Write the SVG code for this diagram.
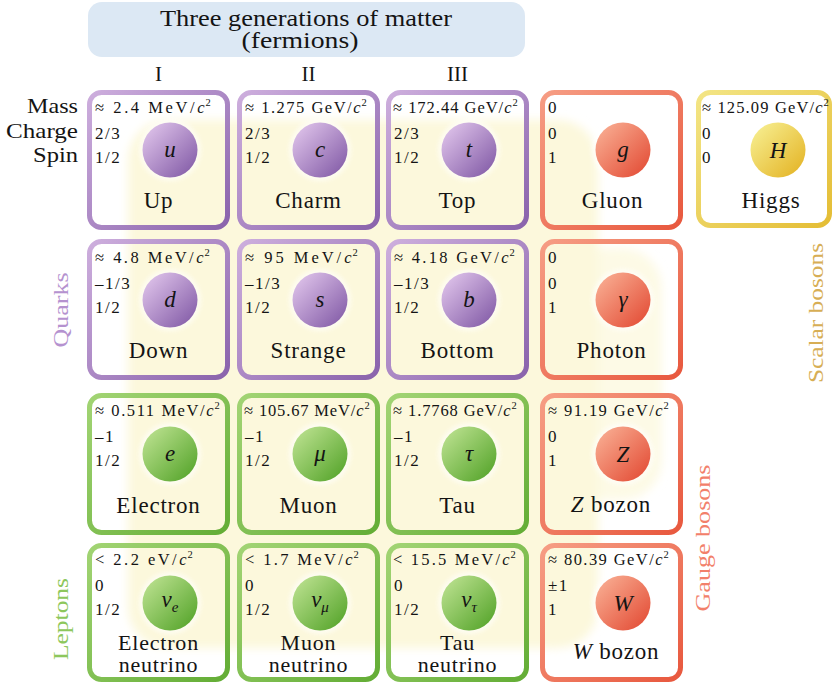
<svg xmlns="http://www.w3.org/2000/svg" width="836" height="686" viewBox="0 0 836 686" font-family="Liberation Serif, Times New Roman, Tinos, Noto Serif, DejaVu Serif, serif">
  <defs>
    <linearGradient id="qStroke" x1="0" y1="0" x2="1" y2="1">
      <stop offset="0" stop-color="#cdaedd"/><stop offset="1" stop-color="#8a63ac"/>
    </linearGradient>
    <linearGradient id="lStroke" x1="0" y1="0" x2="1" y2="1">
      <stop offset="0" stop-color="#a2d474"/><stop offset="1" stop-color="#63ad35"/>
    </linearGradient>
    <linearGradient id="bStroke" x1="0" y1="0" x2="1" y2="1">
      <stop offset="0" stop-color="#f69d84"/><stop offset="1" stop-color="#e8583e"/>
    </linearGradient>
    <linearGradient id="hStroke" x1="0" y1="0" x2="1" y2="1">
      <stop offset="0" stop-color="#f3e585"/><stop offset="1" stop-color="#e4bd35"/>
    </linearGradient>
    <linearGradient id="qBall" x1="0.1" y1="0.1" x2="0.9" y2="0.9">
      <stop offset="0" stop-color="#dcc0e8"/><stop offset="1" stop-color="#8760aa"/>
    </linearGradient>
    <linearGradient id="lBall" x1="0.1" y1="0.1" x2="0.9" y2="0.9">
      <stop offset="0" stop-color="#b8df8c"/><stop offset="1" stop-color="#5aa72f"/>
    </linearGradient>
    <linearGradient id="bBall" x1="0.1" y1="0.1" x2="0.9" y2="0.9">
      <stop offset="0" stop-color="#f8aa8f"/><stop offset="1" stop-color="#e4513a"/>
    </linearGradient>
    <linearGradient id="hBall" x1="0.1" y1="0.1" x2="0.9" y2="0.9">
      <stop offset="0" stop-color="#f6ec8c"/><stop offset="1" stop-color="#e5b72b"/>
    </linearGradient>
    <filter id="soft" x="-10%" y="-10%" width="120%" height="120%">
      <feGaussianBlur stdDeviation="5"/>
    </filter>
    <filter id="glow" x="-30%" y="-30%" width="160%" height="160%">
      <feGaussianBlur stdDeviation="2"/>
    </filter>
  </defs>
  <style>
    text { font-family: "Liberation Serif", "Times New Roman", Tinos, "Noto Serif", "DejaVu Serif", serif; fill: #141414; }
    .frame { fill: none; stroke-width: 5; }
    .q .frame { stroke: url(#qStroke); }
    .l .frame { stroke: url(#lStroke); }
    .b .frame { stroke: url(#bStroke); }
    .h .frame { stroke: url(#hStroke); }
    .q .ball { fill: url(#qBall); }
    .l .ball { fill: url(#lBall); }
    .b .ball { fill: url(#bBall); }
    .h .ball { fill: url(#hBall); }
    .halo { fill: #ffffff; opacity: 0.6; filter: url(#glow); }
    .mass { font-size: 16.5px; }
    .sup { font-size: 10.5px; }
    .val { font-size: 17px; letter-spacing: 1.5px; }
    .sym { font-size: 23px; font-style: italic; text-anchor: middle; }
    .sub { font-size: 15px; }
    .name { font-size: 23px; letter-spacing: 0.8px; text-anchor: middle; }
    .name2 { font-size: 22px; letter-spacing: 0.8px; text-anchor: middle; }
    .row { font-size: 21px; text-anchor: end; }
    .gen { font-size: 21px; text-anchor: middle; }
    .head { font-size: 24px; text-anchor: middle; }
    .side { font-size: 22px; text-anchor: middle; }
  </style>

  <!-- pale backdrop behind the fermion block -->
  <g id="backdrop" filter="url(#soft)" fill="#fcf8dc">
    <rect x="128" y="120" width="470" height="528" rx="40"/>
    <rect x="540" y="248" width="122" height="252" rx="40" opacity="0.7"/>
  </g>

  <!-- heading -->
  <g id="heading">
    <rect x="88" y="2" width="437" height="55" rx="14" fill="#dce8f4"/>
    <text class="head" x="306" y="26" textLength="292" lengthAdjust="spacingAndGlyphs">Three generations of matter</text>
    <text class="head" x="300" y="48" textLength="117" lengthAdjust="spacingAndGlyphs">(fermions)</text>
  </g>

  <g id="generations">
    <text class="gen" x="158.5" y="81">I</text>
    <text class="gen" x="308.5" y="81">II</text>
    <text class="gen" x="457.5" y="81">III</text>
  </g>

  <g id="row-labels">
    <text class="row" x="78" y="113" textLength="51" lengthAdjust="spacingAndGlyphs">Mass</text>
    <text class="row" x="78" y="138" textLength="72" lengthAdjust="spacingAndGlyphs">Charge</text>
    <text class="row" x="78" y="162" textLength="45" lengthAdjust="spacingAndGlyphs">Spin</text>
  </g>

  <g id="group-labels">
    <text class="side" transform="translate(68 310) rotate(-90)" textLength="75" lengthAdjust="spacingAndGlyphs" style="fill:#b592cf">Quarks</text>
    <text class="side" transform="translate(68 619) rotate(-90)" textLength="82" lengthAdjust="spacingAndGlyphs" style="fill:#8dc75c">Leptons</text>
    <text class="side" transform="translate(710 538) rotate(-90)" textLength="147" lengthAdjust="spacingAndGlyphs" style="fill:#f2806a">Gauge bosons</text>
    <text class="side" transform="translate(823 313) rotate(-90)" textLength="140" lengthAdjust="spacingAndGlyphs" style="fill:#d7ae55">Scalar bosons</text>
  </g>

  <!-- row 1 -->
  <g id="up" class="q">
    <rect class="frame" x="89.5" y="92.5" width="138" height="135" rx="12"/>
    <circle class="halo" cx="170" cy="150" r="31"/>
    <circle class="ball" cx="170" cy="150" r="27.5"/>
    <text class="mass" x="95" y="113" textLength="109.5" lengthAdjust="spacing">≈ 2.4 MeV/<tspan font-style="italic">c</tspan></text>
    <text class="sup" x="205.5" y="106">2</text>
    <text class="val" x="95" y="139">2/3</text>
    <text class="val" x="95" y="163">1/2</text>
    <text class="sym" x="170" y="157">u</text>
    <text class="name" x="158.5" y="208">Up</text>
  </g>
  <g id="charm" class="q">
    <rect class="frame" x="239.5" y="92.5" width="138" height="135" rx="12"/>
    <circle class="halo" cx="320" cy="150" r="31"/>
    <circle class="ball" cx="320" cy="150" r="27.5"/>
    <text class="mass" x="245" y="113" textLength="115.5" lengthAdjust="spacing">≈ 1.275 GeV/<tspan font-style="italic">c</tspan></text>
    <text class="sup" x="361.5" y="106">2</text>
    <text class="val" x="245" y="139">2/3</text>
    <text class="val" x="245" y="163">1/2</text>
    <text class="sym" x="320" y="157">c</text>
    <text class="name" x="308.5" y="208">Charm</text>
  </g>
  <g id="top" class="q">
    <rect class="frame" x="388.5" y="92.5" width="138" height="135" rx="12"/>
    <circle class="halo" cx="469" cy="150" r="31"/>
    <circle class="ball" cx="469" cy="150" r="27.5"/>
    <text class="mass" x="393" y="113" textLength="118.5" lengthAdjust="spacing">≈ 172.44 GeV/<tspan font-style="italic">c</tspan></text>
    <text class="sup" x="512.5" y="106">2</text>
    <text class="val" x="394" y="139">2/3</text>
    <text class="val" x="394" y="163">1/2</text>
    <text class="sym" x="469" y="157">t</text>
    <text class="name" x="457.5" y="208">Top</text>
  </g>
  <g id="gluon" class="b">
    <rect class="frame" x="542.5" y="92.5" width="138" height="135" rx="12"/>
    <circle class="halo" cx="623" cy="150" r="31"/>
    <circle class="ball" cx="623" cy="150" r="27.5"/>
    <text class="val" x="548" y="113">0</text>
    <text class="val" x="548" y="139">0</text>
    <text class="val" x="548" y="163">1</text>
    <text class="sym" x="623" y="157">g</text>
    <text class="name" x="612.5" y="208">Gluon</text>
  </g>
  <g id="higgs" class="h">
    <rect class="frame" x="698.5" y="92.5" width="131" height="133" rx="12"/>
    <circle class="ball" cx="778" cy="150" r="27.5"/>
    <text class="mass" x="702" y="113" textLength="120.5" lengthAdjust="spacing">≈ 125.09 GeV/<tspan font-style="italic">c</tspan></text>
    <text class="sup" x="823.5" y="106">2</text>
    <text class="val" x="702" y="139">0</text>
    <text class="val" x="702" y="163">0</text>
    <text class="sym" x="778" y="158">H</text>
    <text class="name" x="771" y="208">Higgs</text>
  </g>

  <!-- row 2 -->
  <g id="down" class="q">
    <rect class="frame" x="89.5" y="241.5" width="138" height="136" rx="12"/>
    <circle class="halo" cx="170" cy="300" r="31"/>
    <circle class="ball" cx="170" cy="300" r="27.5"/>
    <text class="mass" x="95" y="263" textLength="108.5" lengthAdjust="spacing">≈ 4.8 MeV/<tspan font-style="italic">c</tspan></text>
    <text class="sup" x="204.5" y="256">2</text>
    <text class="val" x="95" y="289">–1/3</text>
    <text class="val" x="95" y="313">1/2</text>
    <text class="sym" x="170" y="307">d</text>
    <text class="name" x="158.5" y="358">Down</text>
  </g>
  <g id="strange" class="q">
    <rect class="frame" x="239.5" y="241.5" width="138" height="136" rx="12"/>
    <circle class="halo" cx="320" cy="300" r="31"/>
    <circle class="ball" cx="320" cy="300" r="27.5"/>
    <text class="mass" x="245" y="263" textLength="106.5" lengthAdjust="spacing">≈ 95 MeV/<tspan font-style="italic">c</tspan></text>
    <text class="sup" x="352.5" y="256">2</text>
    <text class="val" x="245" y="289">–1/3</text>
    <text class="val" x="245" y="313">1/2</text>
    <text class="sym" x="320" y="307">s</text>
    <text class="name" x="308.5" y="358">Strange</text>
  </g>
  <g id="bottom" class="q">
    <rect class="frame" x="388.5" y="241.5" width="138" height="136" rx="12"/>
    <circle class="halo" cx="469" cy="300" r="31"/>
    <circle class="ball" cx="469" cy="300" r="27.5"/>
    <text class="mass" x="394" y="263" textLength="114.5" lengthAdjust="spacing">≈ 4.18 GeV/<tspan font-style="italic">c</tspan></text>
    <text class="sup" x="509.5" y="256">2</text>
    <text class="val" x="394" y="289">–1/3</text>
    <text class="val" x="394" y="313">1/2</text>
    <text class="sym" x="469" y="307">b</text>
    <text class="name" x="457.5" y="358">Bottom</text>
  </g>
  <g id="photon" class="b">
    <rect class="frame" x="542.5" y="241.5" width="138" height="136" rx="12"/>
    <circle class="halo" cx="623" cy="300" r="31"/>
    <circle class="ball" cx="623" cy="300" r="27.5"/>
    <text class="val" x="548" y="263">0</text>
    <text class="val" x="548" y="289">0</text>
    <text class="val" x="548" y="313">1</text>
    <text class="sym" x="623" y="307">γ</text>
    <text class="name" x="611.5" y="358">Photon</text>
  </g>

  <!-- row 3 -->
  <g id="electron" class="l">
    <rect class="frame" x="89.5" y="395.5" width="138" height="137" rx="12"/>
    <circle class="halo" cx="170" cy="454" r="31"/>
    <circle class="ball" cx="170" cy="454" r="27.5"/>
    <text class="mass" x="95" y="416" textLength="118.5" lengthAdjust="spacing">≈ 0.511 MeV/<tspan font-style="italic">c</tspan></text>
    <text class="sup" x="214.5" y="409">2</text>
    <text class="val" x="95" y="442">–1</text>
    <text class="val" x="95" y="466">1/2</text>
    <text class="sym" x="170" y="461">e</text>
    <text class="name" x="158.5" y="513">Electron</text>
  </g>
  <g id="muon" class="l">
    <rect class="frame" x="239.5" y="395.5" width="138" height="137" rx="12"/>
    <circle class="halo" cx="320" cy="454" r="31"/>
    <circle class="ball" cx="320" cy="454" r="27.5"/>
    <text class="mass" x="244" y="416" textLength="119.5" lengthAdjust="spacing">≈ 105.67 MeV/<tspan font-style="italic">c</tspan></text>
    <text class="sup" x="364.5" y="409">2</text>
    <text class="val" x="245" y="442">–1</text>
    <text class="val" x="245" y="466">1/2</text>
    <text class="sym" x="320" y="461">μ</text>
    <text class="name" x="308.5" y="513">Muon</text>
  </g>
  <g id="tau" class="l">
    <rect class="frame" x="388.5" y="395.5" width="138" height="137" rx="12"/>
    <circle class="halo" cx="469" cy="454" r="31"/>
    <circle class="ball" cx="469" cy="454" r="27.5"/>
    <text class="mass" x="393" y="416" textLength="117.5" lengthAdjust="spacing">≈ 1.7768 GeV/<tspan font-style="italic">c</tspan></text>
    <text class="sup" x="511.5" y="409">2</text>
    <text class="val" x="394" y="442">–1</text>
    <text class="val" x="394" y="466">1/2</text>
    <text class="sym" x="469" y="461">τ</text>
    <text class="name" x="457.5" y="513">Tau</text>
  </g>
  <g id="z-boson" class="b">
    <rect class="frame" x="542.5" y="395.5" width="138" height="137" rx="12"/>
    <circle class="halo" cx="623" cy="454" r="31"/>
    <circle class="ball" cx="623" cy="454" r="27.5"/>
    <text class="mass" x="548" y="416" textLength="114.5" lengthAdjust="spacing">≈ 91.19 GeV/<tspan font-style="italic">c</tspan></text>
    <text class="sup" x="663.5" y="409">2</text>
    <text class="val" x="548" y="442">0</text>
    <text class="val" x="548" y="466">1</text>
    <text class="sym" x="623" y="462">Z</text>
    <text class="name" x="611" y="512"><tspan font-style="italic">Z</tspan> bozon</text>
  </g>

  <!-- row 4 -->
  <g id="electron-neutrino" class="l">
    <rect class="frame" x="89.5" y="545.5" width="138" height="134" rx="12"/>
    <circle class="halo" cx="170" cy="603" r="31"/>
    <circle class="ball" cx="170" cy="603" r="27.5"/>
    <text class="mass" x="95" y="565" textLength="91.5" lengthAdjust="spacing">&lt; 2.2 eV/<tspan font-style="italic">c</tspan></text>
    <text class="sup" x="187.5" y="558">2</text>
    <text class="val" x="95" y="591">0</text>
    <text class="val" x="95" y="615">1/2</text>
    <text class="sym" x="170" y="607">ν<tspan class="sub" dy="5">e</tspan></text>
    <text class="name2" x="158.5" y="650">Electron</text>
    <text class="name2" x="158.5" y="672">neutrino</text>
  </g>
  <g id="muon-neutrino" class="l">
    <rect class="frame" x="239.5" y="545.5" width="138" height="134" rx="12"/>
    <circle class="halo" cx="320" cy="603" r="31"/>
    <circle class="ball" cx="320" cy="603" r="27.5"/>
    <text class="mass" x="245" y="565" textLength="107.5" lengthAdjust="spacing">&lt; 1.7 MeV/<tspan font-style="italic">c</tspan></text>
    <text class="sup" x="353.5" y="558">2</text>
    <text class="val" x="245" y="591">0</text>
    <text class="val" x="245" y="615">1/2</text>
    <text class="sym" x="320" y="607">ν<tspan class="sub" dy="5">μ</tspan></text>
    <text class="name2" x="308.5" y="650">Muon</text>
    <text class="name2" x="308.5" y="672">neutrino</text>
  </g>
  <g id="tau-neutrino" class="l">
    <rect class="frame" x="388.5" y="545.5" width="138" height="134" rx="12"/>
    <circle class="halo" cx="469" cy="603" r="31"/>
    <circle class="ball" cx="469" cy="603" r="27.5"/>
    <text class="mass" x="393" y="565" textLength="116.5" lengthAdjust="spacing">&lt; 15.5 MeV/<tspan font-style="italic">c</tspan></text>
    <text class="sup" x="510.5" y="558">2</text>
    <text class="val" x="394" y="591">0</text>
    <text class="val" x="394" y="615">1/2</text>
    <text class="sym" x="469" y="607">ν<tspan class="sub" dy="5">τ</tspan></text>
    <text class="name2" x="457.5" y="650">Tau</text>
    <text class="name2" x="457.5" y="672">neutrino</text>
  </g>
  <g id="w-boson" class="b">
    <rect class="frame" x="542.5" y="545.5" width="138" height="134" rx="12"/>
    <circle class="halo" cx="623" cy="603" r="31"/>
    <circle class="ball" cx="623" cy="603" r="27.5"/>
    <text class="mass" x="548" y="565" textLength="114.5" lengthAdjust="spacing">≈ 80.39 GeV/<tspan font-style="italic">c</tspan></text>
    <text class="sup" x="663.5" y="558">2</text>
    <text class="val" x="548" y="591">±1</text>
    <text class="val" x="548" y="615">1</text>
    <text class="sym" x="623" y="611">W</text>
    <text class="name" x="616" y="659"><tspan font-style="italic">W</tspan> bozon</text>
  </g>
</svg>
